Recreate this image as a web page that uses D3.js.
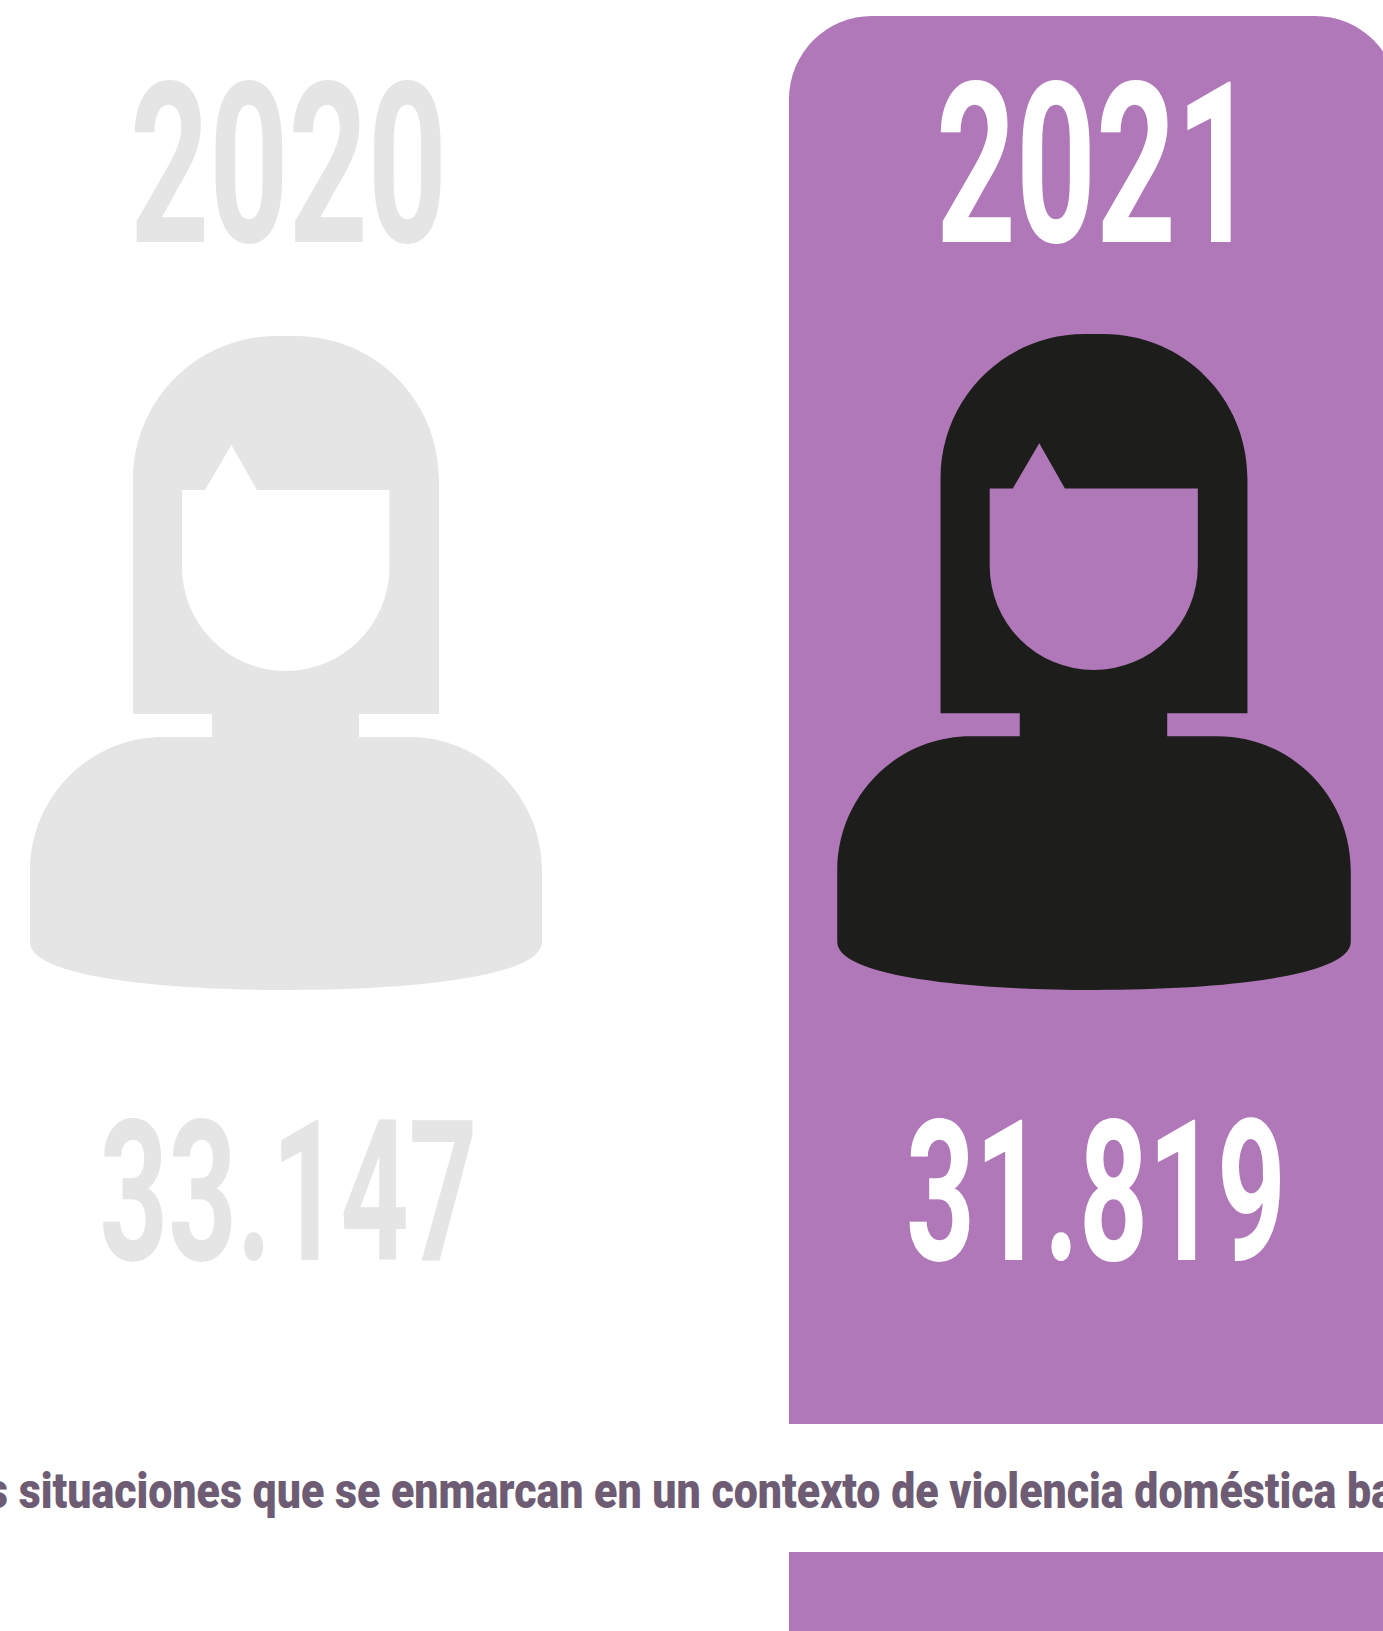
<!DOCTYPE html>
<html>
<head>
<meta charset="utf-8">
<script src="https://cdn.jsdelivr.net/npm/d3@7"></script>
<style>
  html, body { margin: 0; padding: 0; background: #fff; overflow: hidden; }
  svg { display: block; }
  .year, .value { font-family: Roboto, sans-serif; font-weight: 700; }
  .caption { font-family: Roboto, sans-serif; font-weight: 900; }
</style>
</head>
<body>
<svg id="chart"></svg>
<script>
// data
var years = ["2020", "2021"];
var victims = [33147, 31819];
var caption = "s situaciones que se enmarcan en un contexto de violencia doméstica ba";

var width = 1383,
    height = 1631;

var purple = "#b078b9",
    light = "#e5e5e5",
    dark = "#1d1d1b",
    captionColor = "#6d5c73";

var svg = d3.select("#chart")
    .attr("width", width)
    .attr("height", height);

// icon centres
var x = d3.scalePoint().domain(years).range([286, 1094]);

// thousands with a dot
var fmt = d3.formatLocale({decimal: ",", thousands: ".", grouping: [3], currency: ["", ""]}).format(",d");

// squeeze a text to a given width, the fonts here are wider than the original
function fit(sel, widths, y) {
  sel.each(function(d, i) {
    var t = d3.select(this);
    var k = widths[years[i]] / this.getComputedTextLength();
    t.attr("transform", "translate(" + t.attr("data-x") + "," + y + ")scale(" + k + ",1)");
  });
}

// *********************************************
// PANELS
// *********************************************
svg.append("path")
    .attr("fill", purple)
    .attr("d", "M789,1424 V99 A83,83 0 0 1 872,16 H1315 A83,83 0 0 1 1398,99 V1424 Z");

svg.append("rect")
    .attr("x", 789)
    .attr("y", 1552)
    .attr("width", width - 789)
    .attr("height", height - 1552)
    .attr("fill", purple);

// *********************************************
// WOMAN ICON, origin at bottom centre
// *********************************************
var iconPath = "M-153,-276 V-510 C-153,-590 -88.8,-654 -9.5,-654 H9.5 C88.8,-654 153,-590 153,-510 V-276 H73 V-253 H123 " +
    "C196.5,-253 256,-193 256,-119 V-48 C256,-14 130,0 0,0 C-130,0 -256,-14 -256,-48 V-119 " +
    "C-256,-193 -196.5,-253 -123,-253 H-74 V-276 Z " +
    "M-104,-500 H-81 L-54.6,-545 L-29,-500 H103.5 V-423 A103.75,104 0 0 1 -104,-423 Z";

var iconScale = {"2020": 1, "2021": 1.003};
var iconFill = {"2020": light, "2021": dark};
var textFill = {"2020": light, "2021": "#fff"};

svg.selectAll(".icon")
    .data(years)
  .enter().append("path")
    .attr("class", "icon")
    .attr("fill-rule", "evenodd")
    .attr("d", iconPath)
    .attr("fill", d => iconFill[d])
    .attr("transform", d => "translate(" + x(d) + ",990)scale(" + iconScale[d] + ")");

// *********************************************
// LABELS
// *********************************************
var yearNudge = {"2020": 2.5, "2021": 2};
var valueNudge = {"2020": 2.5, "2021": 2};
var yearWidth = {"2020": 317, "2021": 320};
var valueWidth = {"2020": 378, "2021": 380};

svg.selectAll(".year")
    .data(years)
  .enter().append("text")
    .attr("class", "year")
    .attr("data-x", d => x(d) + yearNudge[d])
    .attr("text-anchor", "middle")
    .attr("font-size", 225)
    .attr("fill", d => textFill[d])
    .text(d => d)
    .call(fit, yearWidth, 242);

svg.selectAll(".value")
    .data(victims)
  .enter().append("text")
    .attr("class", "value")
    .attr("data-x", (d, i) => x(years[i]) + valueNudge[years[i]])
    .attr("text-anchor", "middle")
    .attr("font-size", 197)
    .attr("fill", (d, i) => textFill[years[i]])
    .text(d => fmt(d))
    .call(fit, valueWidth, 1260);

svg.append("text")
    .attr("class", "caption")
    .attr("x", -14)
    .attr("y", 1508)
    .attr("font-size", 50)
    .attr("textLength", 1408)
    .attr("lengthAdjust", "spacingAndGlyphs")
    .attr("fill", captionColor)
    .text(caption);
</script>
</body>
</html>
